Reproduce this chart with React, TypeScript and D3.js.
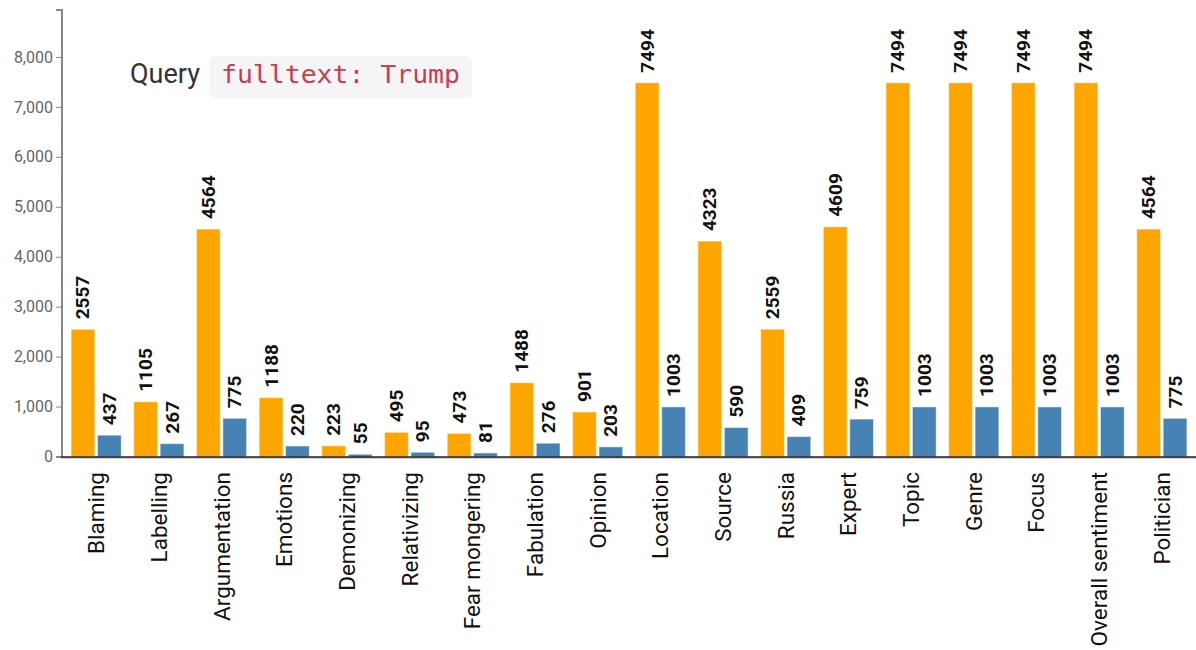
import React from "react";
import * as d3 from "d3";

const categories = [
  "Blaming", "Labelling", "Argumentation", "Emotions", "Demonizing", "Relativizing",
  "Fear mongering", "Fabulation", "Opinion", "Location", "Source", "Russia",
  "Expert", "Topic", "Genre", "Focus", "Overall sentiment", "Politician",
];
const seriesTotal = [2557, 1105, 4564, 1188, 223, 495, 473, 1488, 901, 7494, 4323, 2559, 4609, 7494, 7494, 7494, 7494, 4564];
const seriesQuery = [437, 267, 775, 220, 55, 95, 81, 276, 203, 1003, 590, 409, 759, 1003, 1003, 1003, 1003, 775];
const seriesKeys = ["total", "query"];
const seriesColors = ["#FFA500", "#4682B4"];
const yTicks = [0, 1000, 2000, 3000, 4000, 5000, 6000, 7000, 8000];
const Y_MAX = 8950;
const queryLabel = "Query";
const queryCode = "fulltext: Trump";

const W = 1196;
const H = 650;
const M = { left: 62, right: 0, top: 10, bottom: 193 };

export default function App() {
  const x0 = d3.scaleBand<string>().domain(categories).range([M.left, W - M.right]).paddingInner(0.2).paddingOuter(0.145);
  const x1 = d3.scaleBand<string>().domain(seriesKeys).range([0, x0.bandwidth()]).paddingInner(0.1).paddingOuter(0);
  const y = d3.scaleLinear().domain([0, Y_MAX]).range([H - M.bottom, M.top]);
  const fmt = d3.format(",");
  const y0 = y(0);
  const rows = categories.map((c, i) => ({ c, vals: [seriesTotal[i], seriesQuery[i]] }));
  const font = "Roboto, 'Noto Sans', sans-serif";

  return (
    <svg width={W} height={H} style={{ position: "absolute", left: 0, top: 0, background: "#fff" }}>
      {/* bars */}
      {rows.map((r) => (
        <g key={r.c} transform={`translate(${x0(r.c)},0)`}>
          {r.vals.map((v, k) => {
            const bx = x1(seriesKeys[k])!;
            const bw = x1.bandwidth();
            const top = y(v);
            return (
              <g key={k}>
                <rect x={bx} y={top} width={bw} height={y0 - top} fill={seriesColors[k]}
                  stroke="#fff" strokeOpacity={0.5} strokeWidth={1} />
                <text transform={`translate(${bx + bw / 2},${top - 10}) rotate(-90)`}
                  textAnchor="start" dominantBaseline="central"
                  fontFamily={font} fontSize={19} fontWeight={700} fill="#111">{v}</text>
              </g>
            );
          })}
        </g>
      ))}
      {/* y axis */}
      <path d={`M${M.left - 6},${y(Y_MAX)}H${M.left}V${y0}H${M.left - 6}`} fill="none" stroke="#888" strokeWidth={2} />
      {yTicks.map((t) => (
        <g key={t} transform={`translate(0,${y(t)})`}>
          <line x1={M.left - 6} x2={M.left} stroke="#888" strokeWidth={1} />
          <text x={M.left - 9} dy="0.32em" textAnchor="end" fontFamily={font} fontSize={16} fill="#666">{fmt(t)}</text>
        </g>
      ))}
      {/* x axis */}
      <line x1={M.left - 1} x2={W} y1={y0 + 1} y2={y0 + 1} stroke="#ccc" strokeWidth={2} />
      <line x1={M.left - 1} x2={W} y1={y0} y2={y0} stroke="#222" strokeWidth={1.5} />
      {categories.map((c) => (
        <text key={c} transform={`translate(${x0(c)! + x0.bandwidth() / 2},${y0 + 15}) rotate(-90)`}
          textAnchor="end" dominantBaseline="central" fontFamily={font} fontSize={22.5} fill="#111">{c}</text>
      ))}
      {/* query annotation */}
      <text x={130} y={82.5} fontFamily={font} fontSize={28} fill="#333" textLength={70} lengthAdjust="spacingAndGlyphs">{queryLabel}</text>
      <rect x={209} y={56} width={263} height={42} rx={6} fill="#f5f5f8" />
      <text x={221} y={82.5} fontFamily="'DejaVu Sans Mono', 'Liberation Mono', monospace" fontSize={25} fill="#c7404f"
        textLength={239} lengthAdjust="spacingAndGlyphs">{queryCode}</text>
    </svg>
  );
}
